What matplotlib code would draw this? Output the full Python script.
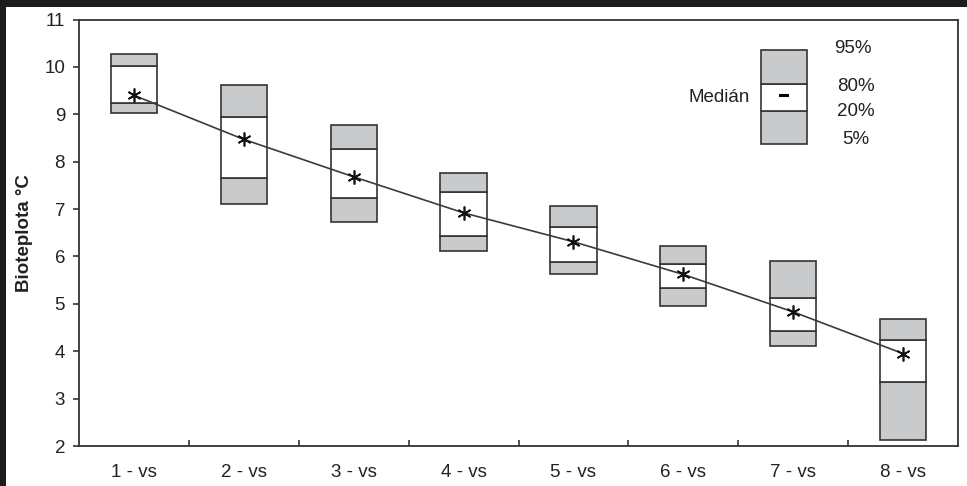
import matplotlib
matplotlib.use("Agg")
import matplotlib.pyplot as plt
from matplotlib.patches import Rectangle
from matplotlib.lines import Line2D

plt.rcParams['font.family'] = ['Liberation Sans', 'DejaVu Sans']

categories = ["1 - vs", "2 - vs", "3 - vs", "4 - vs", "5 - vs", "6 - vs", "7 - vs", "8 - vs"]
p5 = [9.02, 7.10, 6.72, 6.12, 5.62, 4.96, 4.10, 2.12]
p20 = [9.24, 7.65, 7.23, 6.43, 5.89, 5.33, 4.43, 3.34]
median = [9.40, 8.47, 7.68, 6.92, 6.31, 5.62, 4.83, 3.95]
p80 = [10.02, 8.95, 8.26, 7.35, 6.62, 5.85, 5.13, 4.23]
p95 = [10.28, 9.61, 8.77, 7.77, 7.06, 6.22, 5.90, 4.69]
ylabel = "Bioteplota °C"
legend_labels = ["95%", "80%", "20%", "5%"]
legend_median = "Medián"

EDGE = "#333333"
GRAY = "#c9cacc"
TXT = "#222222"

fig = plt.figure(figsize=(9.67, 4.86), dpi=100, facecolor="#1c1c1c")
bg = Rectangle((6 / 967, 0), 1, (486 - 7) / 486, transform=fig.transFigure,
               facecolor="white", edgecolor="none", zorder=-10)
fig.add_artist(bg)
ax = fig.add_axes([79 / 967, (486 - 446) / 486, (958 - 79) / 967, (446 - 19.5) / 486])
ax.set_facecolor("white")

x = list(range(len(categories)))
w = 0.42
lo_h = [b - a for a, b in zip(p5, p20)]
mid_h = [b - a for a, b in zip(p20, p80)]
hi_h = [b - a for a, b in zip(p80, p95)]
ax.bar(x, lo_h, bottom=p5, width=w, color=GRAY, edgecolor=EDGE, linewidth=1.2, zorder=2)
ax.bar(x, mid_h, bottom=p20, width=w, color="white", edgecolor=EDGE, linewidth=1.2, zorder=2)
ax.bar(x, hi_h, bottom=p80, width=w, color=GRAY, edgecolor=EDGE, linewidth=1.2, zorder=2)
ax.plot(x, median, color="#3a3a3a", linewidth=1.2, zorder=3)
ax.plot(x, median, linestyle="none", marker=(6, 2, 0), markersize=10, markeredgewidth=1.2,
        color="#111111", zorder=4)

ax.set_xlim(-0.5, len(categories) - 0.5)
ax.set_ylim(2, 11)
ax.set_yticks(range(2, 12))
ax.set_xticks(x)
ax.set_xticklabels(categories)
ax.set_xticks([i + 0.5 for i in x[:-1]], minor=True)
ax.tick_params(axis="x", which="major", length=0, pad=13, labelsize=13.5, labelcolor=TXT)
ax.tick_params(axis="x", which="minor", direction="in", length=4, width=1.2, color=EDGE)
ax.tick_params(axis="y", direction="out", length=4, width=1.2, color=EDGE, pad=6,
               labelsize=13.5, labelcolor=TXT)
for s in ax.spines.values():
    s.set_color(EDGE)
    s.set_linewidth(1.3)
ax.set_ylabel(ylabel, fontsize=13.5, fontweight="bold", color=TXT, labelpad=8)

# legend key
lx0, lx1 = 0.776, 0.828
ly = [0.708, 0.785, 0.848, 0.929]
ax.add_patch(Rectangle((lx0, ly[0]), lx1 - lx0, ly[1] - ly[0], transform=ax.transAxes,
                       facecolor=GRAY, edgecolor=EDGE, linewidth=1.2, zorder=5))
ax.add_patch(Rectangle((lx0, ly[1]), lx1 - lx0, ly[2] - ly[1], transform=ax.transAxes,
                       facecolor="white", edgecolor=EDGE, linewidth=1.2, zorder=5))
ax.add_patch(Rectangle((lx0, ly[2]), lx1 - lx0, ly[3] - ly[2], transform=ax.transAxes,
                       facecolor=GRAY, edgecolor=EDGE, linewidth=1.2, zorder=5))
ax.add_line(Line2D([0.798, 0.806], [0.822, 0.822], transform=ax.transAxes,
                   color="black", linewidth=2.2, zorder=6))
ax.text(0.763, 0.816, legend_median, transform=ax.transAxes, ha="right", va="center",
        fontsize=13.5, color=TXT)
for lab, yy, xx in zip(legend_labels, [0.932, 0.843, 0.785, 0.719], [0.880, 0.884, 0.884, 0.884]):
    ax.text(xx, yy, lab, transform=ax.transAxes, ha="center", va="center", fontsize=13.5, color=TXT)

fig.savefig("out.png", dpi=100, facecolor=fig.get_facecolor())
